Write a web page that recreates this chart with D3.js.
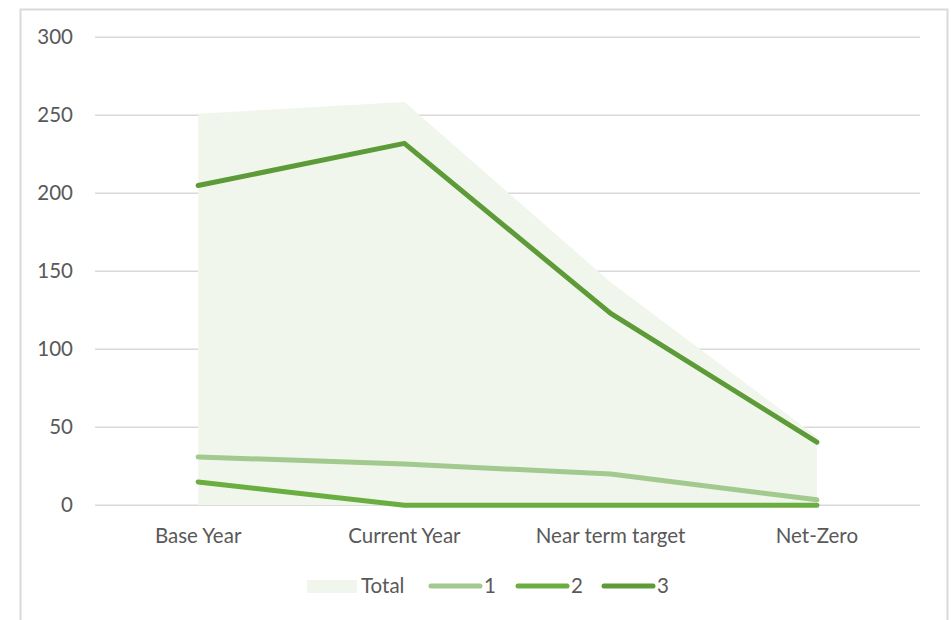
<!DOCTYPE html>
<html>
<head>
<meta charset="utf-8">
<script src="https://cdn.jsdelivr.net/npm/d3@7"></script>
<style>
  body { margin: 0; background: #fff; }
  svg { display: block; font-family: Lato, "Open Sans", sans-serif; }
</style>
</head>
<body>
<script>
// Data
const categories = ['Base Year', 'Current Year', 'Near term target', 'Net-Zero'];
const total = [251, 258.5, 143, 44];
const series1 = [31, 26.5, 20, 3.5];
const series2 = [15, 0, 0, 0];
const series3 = [205, 232, 123, 40.5];
const yTicks = [0, 50, 100, 150, 200, 250, 300];

const width = 951;
const height = 620;
const margin = { top: 37, right: 31, bottom: 115, left: 95 };
const fontSize = '20.5px';

const svg = d3.select('body')
  .append('svg')
  .attr('width', width)
  .attr('height', height);

// Chart border
svg.append('rect')
  .attr('x', 20.5)
  .attr('y', 9.5)
  .attr('width', 927)
  .attr('height', 640)
  .style('fill', '#fff')
  .style('stroke', '#d9d9d9')
  .style('stroke-width', 2);

const x = d3.scaleBand()
  .domain(categories)
  .range([margin.left, width - margin.right]);

const y = d3.scaleLinear()
  .domain([0, 300])
  .range([height - margin.bottom + 0.3, margin.top + 0.3]);

const cx = (d) => x(d) + x.bandwidth() / 2;

// Gridlines
svg.append('g')
  .selectAll('line')
  .data(yTicks)
  .join('line')
  .attr('x1', margin.left)
  .attr('x2', width - margin.right)
  .attr('y1', (d) => y(d))
  .attr('y2', (d) => y(d))
  .style('stroke', '#d9d9d9')
  .style('stroke-width', 1.5);

// Y labels
svg.append('g')
  .selectAll('text')
  .data(yTicks)
  .join('text')
  .attr('x', 73)
  .attr('y', (d) => y(d))
  .attr('dy', '0.35em')
  .attr('text-anchor', 'end')
  .style('font-size', fontSize)
  .style('fill', '#595959')
  .text((d) => d);

// X labels
svg.append('g')
  .selectAll('text')
  .data(categories)
  .join('text')
  .attr('x', (d) => cx(d))
  .attr('y', 536)
  .attr('dy', '0.35em')
  .attr('text-anchor', 'middle')
  .style('font-size', fontSize)
  .style('fill', '#595959')
  .text((d) => d);

// Total area
const area = d3.area()
  .x((d, i) => cx(categories[i]))
  .y0(y(0))
  .y1((d) => y(d));

svg.append('path')
  .datum(total)
  .attr('d', area)
  .style('fill', '#f0f6eb');

// Lines
const line = d3.line()
  .x((d, i) => cx(categories[i]))
  .y((d) => y(d));

const lineSeries = [
  { name: '1', values: series1, color: '#a2c98e' },
  { name: '2', values: series2, color: '#6aad41' },
  { name: '3', values: series3, color: '#5d9a38' },
];

svg.append('g')
  .selectAll('path')
  .data(lineSeries)
  .join('path')
  .attr('d', (d) => line(d.values))
  .style('fill', 'none')
  .style('stroke', (d) => d.color)
  .style('stroke-width', 5)
  .style('stroke-linecap', 'round')
  .style('stroke-linejoin', 'round');

// Legend
const legend = svg.append('g').attr('transform', 'translate(0,586)');

legend.append('rect')
  .attr('x', 307)
  .attr('y', -6)
  .attr('width', 50)
  .attr('height', 13)
  .style('fill', '#f0f6eb');

legend.append('text')
  .attr('x', 361)
  .attr('dy', '0.35em')
  .style('font-size', fontSize)
  .style('fill', '#595959')
  .text('Total');

const legendX = [428, 515, 601];
lineSeries.forEach((s, i) => {
  legend.append('line')
    .attr('x1', legendX[i] + 3)
    .attr('x2', legendX[i] + 52)
    .style('stroke', s.color)
    .style('stroke-width', 5)
    .style('stroke-linecap', 'round');
  legend.append('text')
    .attr('x', legendX[i] + 56)
    .attr('dy', '0.35em')
    .style('font-size', fontSize)
    .style('fill', '#595959')
    .text(s.name);
});
</script>
</body>
</html>
